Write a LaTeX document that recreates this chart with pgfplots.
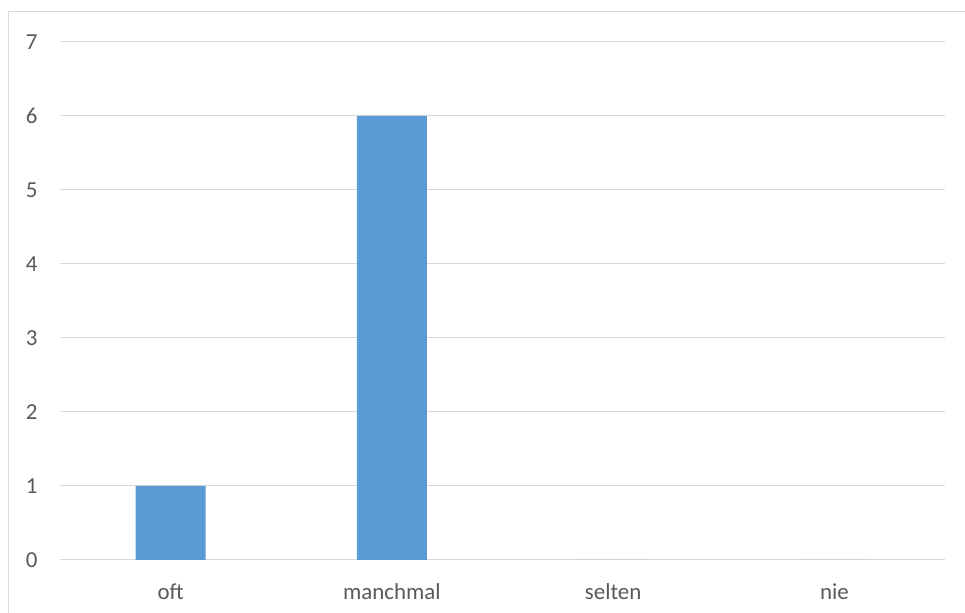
\documentclass[border=0pt]{standalone}
\usepackage{pgfplots}
\pgfplotsset{compat=1.18}
\usepackage{fontspec}
\setmainfont{Carlito}
\definecolor{barblue}{HTML}{5B9BD5}
\definecolor{gridgrey}{HTML}{D9D9D9}
\definecolor{textgrey}{HTML}{595959}
\begin{document}
\begin{tikzpicture}[x=1bp,y=1bp]
\path[use as bounding box] (0,0) rectangle (965,613);
\draw[gridgrey, line width=1bp] (8.5,0) -- (8.5,601.5) -- (965,601.5);
\begin{axis}[
  at={(60bp,53bp)}, anchor=south west,
  scale only axis, width=885bp, height=518bp,
  xmin=-0.5, xmax=3.5, ymin=0, ymax=7,
  ytick={0,1,...,7},
  xtick={0,1,2,3},
  xticklabels={oft,manchmal,selten,nie},
  axis line style={draw=none},
  axis x line*=bottom,
  ymajorgrids, grid style={gridgrey, line width=1bp},
  major tick length=0pt,
  tick label style={font=\fontsize{23}{27}\selectfont, text=textgrey},
  /pgf/number format/assume math mode=true,
  y tick label style={anchor=east, xshift=-19bp},
  x tick label style={anchor=center, yshift=-32bp},
  ybar, bar width=70bp,
  clip=false,
]
\addplot[fill=barblue, draw=none] coordinates {(0,1) (1,6) (2,0) (3,0)};
\end{axis}
\end{tikzpicture}
\end{document}
